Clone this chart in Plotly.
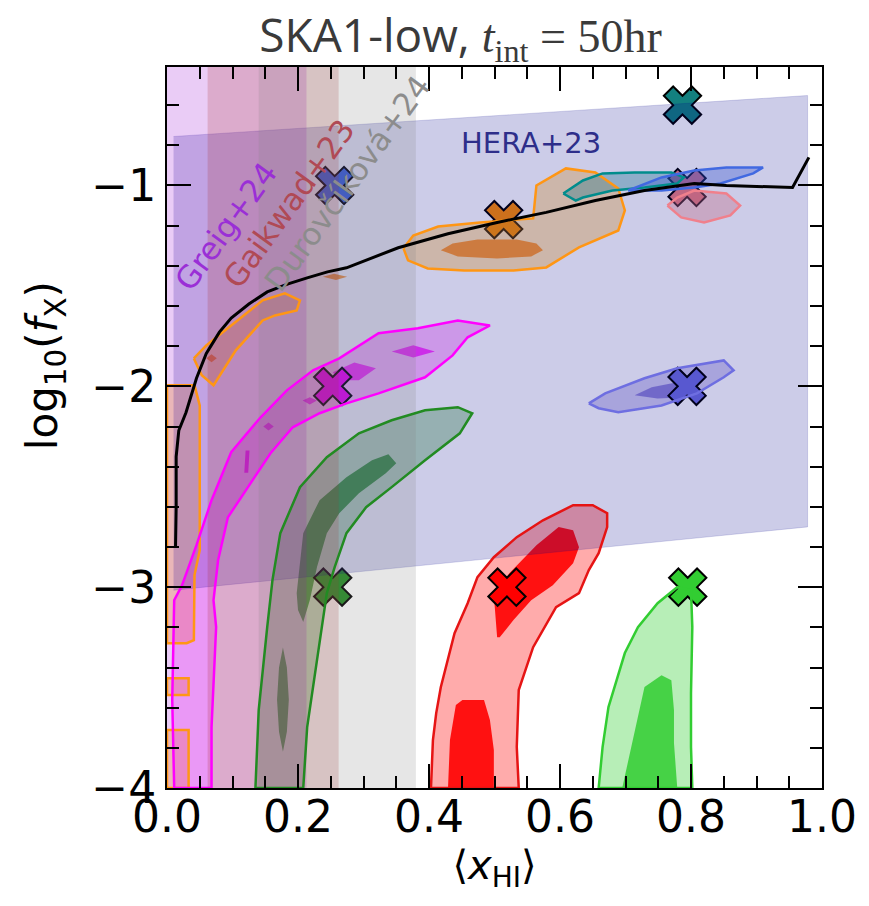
import plotly.graph_objects as go

# ---------------- data ----------------
y_range = [-4.0, -0.41]
x_range = [0.0, 1.0]

# vertical bands (constraints on <x_HI>)
band_labels = ["Greig+24", "Gaikwad+23", "Durovčíková+24"]
band_lo = [0.0, 0.062, 0.140]
band_hi = [0.213, 0.262, 0.380]
band_colors = ["rgba(148,0,211,0.2)", "rgba(165,42,42,0.2)", "rgba(128,128,128,0.2)"]
label_x = [0.090, 0.185, 0.276]
label_y = [-1.20, -1.09, -0.99]
label_colors = ["#9a2fd6", "#b04a55", "#8c8c8c"]

# HERA+23 band
hera_x = [0.010, 0.978, 0.978, 0.010]
hera_y = [-0.756, -0.552, -2.700, -3.015]

# black curve
curve_x = [0.013, 0.014, 0.014, 0.018, 0.029, 0.045, 0.060, 0.080, 0.098, 0.125, 0.153, 0.185,
           0.214, 0.245, 0.274, 0.315, 0.353, 0.429, 0.504, 0.579, 0.654, 0.729, 0.805, 0.854,
           0.955, 0.980]
curve_y = [-2.80, -2.60, -2.35, -2.22, -2.13, -1.96, -1.836, -1.73, -1.66, -1.59, -1.53, -1.49,
           -1.46, -1.43, -1.41, -1.36, -1.31, -1.24, -1.184, -1.134, -1.075, -1.025, -0.99, -1.0,
           -1.01, -0.86]

# true parameter markers
back_x = [0.787, 0.256, 0.514, 0.794]
back_y = [-0.60, -1.00, -1.17, -1.01]
back_colors = ["#13807f", "royalblue", "darkorange", "lightcoral"]
front_x = [0.253, 0.794, 0.253, 0.519, 0.795]
front_y = [-2.00, -2.00, -3.00, -3.00, -3.00]
front_colors = ["magenta", "rgb(110,110,225)", "forestgreen", "red", "limegreen"]

# contours (95% and 68% regions); None separates pieces
orange95_x = [0.361, 0.376, 0.414, 0.478, 0.559, 0.564, 0.609, 0.654, 0.689, 0.699, 0.689, 0.629, 0.579, 0.529, 0.454, 0.398, 0.368, None,
              0.041, 0.060, 0.098, 0.146, 0.180, 0.203, 0.198, 0.165, 0.146, 0.105, 0.071, 0.053, None,
              0.0, 0.042, 0.050, 0.050, 0.042, 0.041, 0.030, 0.0, None,
              0.0, 0.033, 0.033, 0.0, None,
              0.0, 0.033, 0.033, 0.0]
orange95_y = [-1.313, -1.249, -1.204, -1.184, -1.164, -1.000, -0.915, -0.935, -1.015, -1.124, -1.224, -1.308, -1.408, -1.423, -1.423, -1.413, -1.373, None,
              -1.861, -1.796, -1.697, -1.572, -1.537, -1.572, -1.622, -1.647, -1.672, -1.821, -1.995, -1.945, None,
              -1.995, -1.995, -2.095, -2.816, -2.94, -3.264, -3.279, -3.279, None,
              -3.453, -3.453, -3.537, -3.537, None,
              -3.711, -3.711, -4.0, -4.0]
orange68_x = [0.418, 0.436, 0.474, 0.534, 0.564, 0.574, 0.556, 0.504, 0.444, None,
              0.238, 0.255, 0.275, 0.258, None, 0.060, 0.068, 0.076, 0.068]
orange68_y = [-1.323, -1.289, -1.269, -1.269, -1.289, -1.323, -1.353, -1.363, -1.353, None,
              -1.455, -1.44, -1.455, -1.47, None, -1.86, -1.84, -1.86, -1.88]

magenta95_x = [0.011, 0.008, 0.011, 0.023, 0.045, 0.068, 0.098, 0.143, 0.183, 0.223, 0.263, 0.323, 0.383, 0.444, 0.493,
               0.459, 0.436, 0.394, 0.323, 0.274, 0.233, 0.192, 0.158, 0.123, 0.093, 0.078, 0.071, 0.075, 0.068, 0.068]
magenta95_y = [-4.0, -3.562, -3.065, -2.99, -2.791, -2.567, -2.328, -2.154, -2.02, -1.920, -1.861, -1.736, -1.711, -1.672, -1.697,
               -1.756, -1.846, -1.955, -2.035, -2.085, -2.134, -2.204, -2.333, -2.502, -2.652, -2.866, -3.065, -3.199, -3.697, -4.0]
magenta68_x = [0.343, 0.376, 0.409, 0.376, None, 0.253, 0.286, 0.319, 0.293, 0.263, None,
               0.207, 0.218, 0.229, 0.218, None, 0.147, 0.155, 0.163, 0.155, None, 0.120, 0.126, 0.124, 0.118]
magenta68_y = [-1.826, -1.796, -1.826, -1.856, None, -1.930, -1.881, -1.910, -1.970, -1.970, None,
               -2.07, -2.055, -2.07, -2.09, None, -2.20, -2.18, -2.20, -2.22, None, -2.32, -2.32, -2.43, -2.43]

green95_x = [0.135, 0.140, 0.153, 0.161, 0.173, 0.203, 0.244, 0.293, 0.343, 0.394, 0.444, 0.466,
             0.447, 0.394, 0.343, 0.304, 0.274, 0.256, 0.244, 0.229, 0.214, 0.208]
green95_y = [-4.0, -3.612, -3.199, -2.965, -2.731, -2.502, -2.353, -2.234, -2.169, -2.119, -2.104, -2.134,
             -2.234, -2.368, -2.502, -2.602, -2.731, -2.900, -3.030, -3.363, -3.697, -4.0]
green68_x = [0.198, 0.208, 0.233, 0.274, 0.313, 0.338, 0.350, 0.334, 0.293, 0.263, 0.244, 0.229, 0.218, 0.208, 0.200, None,
             0.177, 0.183, 0.186, 0.183, 0.177, 0.171, 0.168, 0.171]
green68_y = [-3.030, -2.731, -2.567, -2.453, -2.368, -2.338, -2.383, -2.433, -2.532, -2.632, -2.731, -2.900, -3.065, -3.174, -3.114, None,
             -3.30, -3.40, -3.56, -3.72, -3.82, -3.72, -3.56, -3.40]

red95_x = [0.403, 0.406, 0.411, 0.418, 0.439, 0.459, 0.474, 0.499, 0.534, 0.574, 0.620, 0.650, 0.672, 0.672,
           0.659, 0.644, 0.629, 0.594, 0.559, 0.537, 0.534, 0.537]
red95_y = [-4.0, -3.761, -3.627, -3.498, -3.229, -3.080, -2.950, -2.851, -2.751, -2.667, -2.592, -2.592, -2.632, -2.701,
           -2.831, -2.915, -3.030, -3.100, -3.299, -3.512, -3.796, -4.0]
red68_x = [0.504, 0.499, 0.523, 0.564, 0.598, 0.620, 0.629, 0.620, 0.589, 0.556, 0.529, 0.508, None,
           0.429, 0.432, 0.441, 0.451, 0.484, 0.493, 0.499, 0.499]
red68_y = [-3.249, -3.040, -2.930, -2.791, -2.701, -2.716, -2.801, -2.881, -2.990, -3.065, -3.164, -3.249, None,
           -4.0, -3.761, -3.587, -3.562, -3.562, -3.662, -3.811, -4.0]

lime95_x = [0.659, 0.665, 0.674, 0.699, 0.719, 0.749, 0.779, 0.800, 0.802, 0.800, 0.800, 0.802]
lime95_y = [-4.0, -3.796, -3.597, -3.328, -3.199, -3.080, -3.0, -3.015, -3.199, -3.527, -3.796, -4.0]
lime68_x = [0.695, 0.710, 0.729, 0.755, 0.770, 0.774, 0.774, 0.779]
lime68_y = [-4.0, -3.776, -3.497, -3.438, -3.463, -3.612, -3.776, -4.0]

blue95_x = [0.644, 0.669, 0.729, 0.779, 0.850, 0.865, 0.850, 0.809, 0.755, 0.689, 0.659]
blue95_y = [-2.085, -2.035, -1.960, -1.910, -1.871, -1.920, -1.955, -2.035, -2.095, -2.129, -2.109]
blue68_x = [0.714, 0.740, 0.779, 0.809, 0.789, 0.749]
blue68_y = [-2.045, -2.005, -1.980, -1.985, -2.055, -2.060]

teal95_x = [0.605, 0.635, 0.665, 0.714, 0.770, 0.789, 0.779, 0.729, 0.680, 0.635, 0.624]
teal95_y = [-1.040, -0.975, -0.940, -0.935, -0.935, -0.960, -0.990, -1.010, -1.025, -1.060, -1.075]

royal95_x = [0.704, 0.755, 0.805, 0.854, 0.910, 0.895, 0.845, 0.805, 0.755]
royal95_y = [-1.025, -0.960, -0.925, -0.910, -0.910, -0.940, -0.990, -1.010, -1.025]

pink95_x = [0.764, 0.779, 0.805, 0.854, 0.875, 0.860, 0.820, 0.785]
pink95_y = [-1.100, -1.060, -1.025, -1.040, -1.100, -1.149, -1.184, -1.159]

# tick values
x_ticks = [0.0, 0.2, 0.4, 0.6, 0.8, 1.0]
y_ticks = [-4, -3, -2, -1]

# (95% x, 95% y, 68% x, 68% y, outline, fill95, fill68)
contours = [
    (orange95_x, orange95_y, orange68_x, orange68_y, "rgb(255,150,20)", "rgba(255,165,0,0.30)", "rgba(255,130,0,0.75)"),
    (magenta95_x, magenta95_y, magenta68_x, magenta68_y, "rgb(255,0,255)", "rgba(255,0,255,0.25)", "rgba(255,0,255,0.70)"),
    (green95_x, green95_y, green68_x, green68_y, "rgb(34,139,34)", "rgba(34,139,34,0.30)", "rgba(34,139,34,0.80)"),
    (red95_x, red95_y, red68_x, red68_y, "rgb(230,20,20)", "rgba(255,0,0,0.33)", "rgba(255,0,0,0.90)"),
    (lime95_x, lime95_y, lime68_x, lime68_y, "rgb(50,205,50)", "rgba(50,205,50,0.35)", "rgba(50,205,50,0.85)"),
    (blue95_x, blue95_y, blue68_x, blue68_y, "rgb(110,110,225)", "rgba(106,90,205,0.30)", "rgba(106,90,205,0.65)"),
    (teal95_x, teal95_y, None, None, "rgb(0,140,140)", "rgba(0,128,128,0.30)", None),
    (royal95_x, royal95_y, None, None, "rgb(65,105,225)", "rgba(65,105,225,0.35)", None),
    (pink95_x, pink95_y, None, None, "rgb(240,128,140)", "rgba(240,128,128,0.35)", None),
]

# ---------------- figure ----------------
fig = go.Figure()


def closed(xs, ys):
    """Close every None-separated piece so its outline is a loop."""
    ox, oy, sx, sy = [], [], [], []
    for x, y in list(zip(xs, ys)) + [(None, None)]:
        if x is None:
            if sx:
                ox += sx + [sx[0], None]
                oy += sy + [sy[0], None]
            sx, sy = [], []
        else:
            sx.append(x)
            sy.append(y)
    return ox, oy


def add_marks(xs, ys, colors):
    fig.add_trace(go.Scatter(
        x=xs, y=ys, mode="markers", showlegend=False, hoverinfo="skip",
        marker=dict(symbol="x", size=33, color=colors, line=dict(color="black", width=2))))


def add_fill(xs, ys, fill):
    fig.add_trace(go.Scatter(
        x=xs, y=ys, mode="lines", fill="toself", fillcolor=fill, showlegend=False,
        hoverinfo="skip", line=dict(color="rgba(0,0,0,0)", width=0)))


add_marks(back_x, back_y, back_colors)
for c95x, c95y, c68x, c68y, lc, f95, f68 in contours:
    add_fill(c95x, c95y, f95)
    if c68x is not None:
        add_fill(c68x, c68y, f68)
add_marks(front_x, front_y, front_colors)

# HERA band
fig.add_trace(go.Scatter(x=hera_x, y=hera_y, mode="lines", fill="toself",
                         fillcolor="rgba(0,0,139,0.2)", line=dict(color="rgba(0,0,139,0.15)", width=1),
                         showlegend=False, hoverinfo="skip"))

# vertical bands spanning the full y-range
for lo, hi, col in zip(band_lo, band_hi, band_colors):
    fig.add_trace(go.Scatter(x=[lo, hi, hi, lo], y=[y_range[0], y_range[0], y_range[1], y_range[1]],
                             mode="lines", fill="toself", fillcolor=col,
                             line=dict(width=0, color="rgba(0,0,0,0)"), showlegend=False, hoverinfo="skip"))

# contour outlines on top
for c95x, c95y, c68x, c68y, lc, f95, f68 in contours:
    ox, oy = closed(c95x, c95y)
    fig.add_trace(go.Scatter(x=ox, y=oy, mode="lines", line=dict(color=lc, width=2.5),
                             showlegend=False, hoverinfo="skip", connectgaps=False))

# black curve
fig.add_trace(go.Scatter(x=curve_x, y=curve_y, mode="lines", line=dict(color="black", width=3),
                         showlegend=False, hoverinfo="skip"))

for txt, lx, ly, col in zip(band_labels, label_x, label_y, label_colors):
    fig.add_annotation(x=lx, y=ly, text=txt, showarrow=False, textangle=-54,
                       font=dict(family="DejaVu Sans", size=31, color=col))

fig.add_annotation(x=0.556, y=-0.79, text="HERA+23", showarrow=False,
                   font=dict(family="DejaVu Sans", size=29, color="#2e2e8a"))

# y-axis title
fig.add_annotation(xref="paper", yref="paper", x=0, y=0.585, xshift=-122, xanchor="center", yanchor="middle",
                   text="log<sub>10</sub>(<i>f</i><sub>X</sub>)",
                   textangle=-90, showarrow=False, font=dict(family="DejaVu Sans", size=42, color="black"))

axis_common = dict(showgrid=False, zeroline=False, showline=True, linecolor="black", linewidth=2,
                   mirror="allticks", ticks="inside", ticklen=24, tickwidth=2, tickcolor="black",
                   tickfont=dict(family="DejaVu Sans", size=44, color="black"))

fig.update_xaxes(range=x_range, tickvals=x_ticks, tickformat=".1f", ticklabelstandoff=-11,
                 minor=dict(dtick=0.05, ticks="inside", ticklen=12, tickwidth=1.5, tickcolor="black"),
                 title=dict(text="⟨<i>x</i><sub>HI</sub>⟩", font=dict(family="DejaVu Sans", size=40, color="black"),
                            standoff=4),
                 **axis_common)
fig.update_yaxes(range=y_range, tickvals=y_ticks,
                 minor=dict(dtick=0.2, tick0=-4, ticks="inside", ticklen=12, tickwidth=1.5, tickcolor="black"),
                 **axis_common)

fig.update_layout(
    width=869, height=906,
    margin=dict(l=167, r=43, t=67, b=118),
    plot_bgcolor="white", paper_bgcolor="white",
    title=dict(text="SKA1-low, <span style=\"font-family:'Liberation Serif'\"><i>t</i><sub>int</sub> = 50hr</span>",
               x=0.53, xanchor="center", xref="container", y=0.978, yanchor="top", yref="container",
               font=dict(family="Open Sans", size=46, color="#3a3a3a")),
)

fig.write_html("out.html")
